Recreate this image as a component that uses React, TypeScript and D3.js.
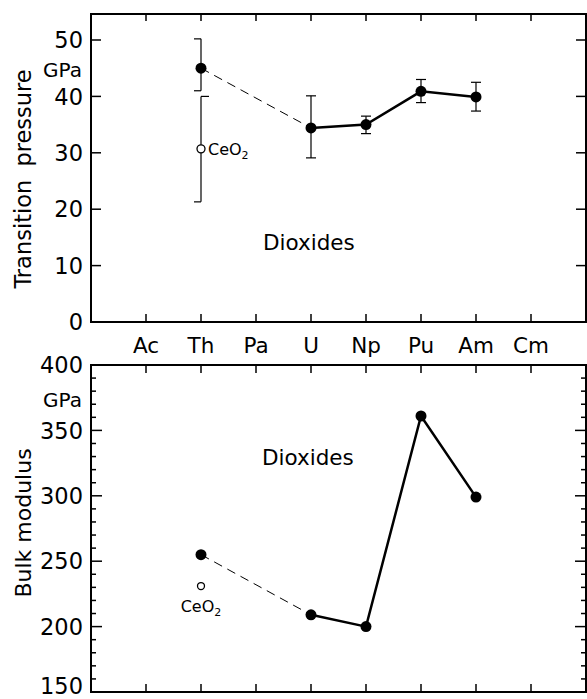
import React from 'react';
import * as d3 from 'd3';

// actinide row along the x axis
const elements = ['Ac', 'Th', 'Pa', 'U', 'Np', 'Pu', 'Am', 'Cm'];

// transition pressure of the dioxides (GPa)
const tpElems = ['Th', 'U', 'Np', 'Pu', 'Am'];
const tpValues = [45, 34.4, 35, 40.9, 39.9];
const tpLow = [41, 29.1, 33.4, 38.9, 37.4];
const tpHigh = [50.2, 40.1, 36.5, 43.0, 42.5];
const ceo2Tp = 30.7;
const ceo2TpLow = 21.3;
const ceo2TpHigh = 40;

// bulk modulus of the dioxides (GPa)
const bmElems = ['Th', 'U', 'Np', 'Pu', 'Am'];
const bmValues = [255, 209, 200, 361, 299];
const ceo2Bm = 231;

const tpTicks = [0, 10, 20, 30, 40, 50];
const bmTicks = [150, 200, 250, 300, 350, 400];

const FONT = '"DejaVu Sans", sans-serif';

const App = () => {
  const W = 587;
  const H = 699;
  const left = 91;
  const right = 586;

  const x = d3.scaleLinear().domain([-1, elements.length]).range([left, right]);
  const xe = (e: string) => x(elements.indexOf(e));

  // top panel
  const tTop = 14;
  const tBot = 322;
  const yT = d3.scaleLinear().domain([0, 50]).range([tBot, 40]);

  // bottom panel
  const bTop = 365;
  const bBot = 692;
  const yB = d3.scaleLinear().domain([150, 400]).range([bBot, bTop]);

  const line = d3.line<[number, number]>().x(d => d[0]).y(d => d[1]);

  const tpPts: [number, number][] = tpElems.map((e, i) => [xe(e), yT(tpValues[i])]);
  const bmPts: [number, number][] = bmElems.map((e, i) => [xe(e), yB(bmValues[i])]);

  const minorB = d3.range(150, 401, 10);
  const thX = xe('Th');

  return (
    <svg width={W} height={H} style={{ position: 'absolute', left: 0, top: 0, background: '#fff' }}
      fontFamily={FONT}>
      <rect x={0} y={0} width={W} height={H} fill="#fff" />

      {/* ===== top panel ===== */}
      <rect x={left} y={tTop} width={right - left} height={tBot - tTop} fill="none" stroke="#000" strokeWidth={2} />
      {tpTicks.map(t => (
        <g key={'tt' + t}>
          {t > 0 && <line x1={left} x2={left + 10} y1={yT(t)} y2={yT(t)} stroke="#000" strokeWidth={1.5} />}
          {t > 0 && <line x1={right} x2={right - 10} y1={yT(t)} y2={yT(t)} stroke="#000" strokeWidth={1.5} />}
          <text x={83} y={yT(t)} dy="0.36em" textAnchor="end" fontSize={22.5}>{t}</text>
        </g>
      ))}
      {elements.map(e => (
        <g key={'tx' + e}>
          <line x1={xe(e)} x2={xe(e)} y1={tTop} y2={tTop + 7} stroke="#000" strokeWidth={1.5} />
          <line x1={xe(e)} x2={xe(e)} y1={tBot} y2={tBot - 8} stroke="#000" strokeWidth={1.5} />
          <text x={xe(e)} y={353} textAnchor="middle" fontSize={21.5}>{e}</text>
        </g>
      ))}
      <text x={82} y={77} textAnchor="end" fontSize={20}>GPa</text>
      <text transform="translate(31,179) rotate(-90)" textAnchor="middle" fontSize={22.5} wordSpacing={6}>Transition pressure</text>
      <text x={263} y={250} fontSize={21.5}>Dioxides</text>

      {/* error bars */}
      {tpElems.map((e, i) => {
        const cx = xe(e);
        const isTh = e === 'Th';
        const c0 = isTh ? cx - 7 : cx - 5;
        const c1 = isTh ? cx : cx + 5;
        return (
          <g key={'eb' + e} stroke="#000" strokeWidth={1.2}>
            <line x1={cx} x2={cx} y1={yT(tpLow[i])} y2={yT(tpHigh[i])} />
            <line x1={c0} x2={c1} y1={yT(tpLow[i])} y2={yT(tpLow[i])} />
            <line x1={c0} x2={c1} y1={yT(tpHigh[i])} y2={yT(tpHigh[i])} />
          </g>
        );
      })}
      <g stroke="#000" strokeWidth={1.2}>
        <line x1={thX} x2={thX} y1={yT(ceo2TpLow)} y2={yT(ceo2TpHigh)} />
        <line x1={thX} x2={thX + 8} y1={yT(ceo2TpHigh)} y2={yT(ceo2TpHigh)} />
        <line x1={thX - 7} x2={thX} y1={yT(ceo2TpLow)} y2={yT(ceo2TpLow)} />
      </g>

      <path d={line(tpPts.slice(0, 2)) ?? ''} fill="none" stroke="#000" strokeWidth={1} strokeDasharray="9,6" />
      <path d={line(tpPts.slice(1)) ?? ''} fill="none" stroke="#000" strokeWidth={2.5} />
      {tpPts.map((p, i) => <circle key={'tp' + i} cx={p[0]} cy={p[1]} r={5.5} fill="#000" />)}
      <circle cx={thX} cy={yT(ceo2Tp)} r={4} fill="#fff" stroke="#000" strokeWidth={1.3} />
      <text x={208} y={yT(ceo2Tp) + 6} fontSize={16}>CeO<tspan fontSize={11} dy={4}>2</tspan></text>

      {/* ===== bottom panel ===== */}
      <rect x={left} y={bTop} width={right - left} height={bBot - bTop} fill="none" stroke="#000" strokeWidth={2} />
      {minorB.map(t => {
        const major = t % 50 === 0;
        const len = major ? 11 : 5;
        return (
          <g key={'mb' + t}>
            <line x1={left} x2={left + len} y1={yB(t)} y2={yB(t)} stroke="#000" strokeWidth={1.5} />
            <line x1={right} x2={right - len} y1={yB(t)} y2={yB(t)} stroke="#000" strokeWidth={1.5} />
          </g>
        );
      })}
      {bmTicks.map(t => (
        <text key={'bt' + t} x={83} y={Math.min(yB(t), 686)} dy="0.36em" textAnchor="end" fontSize={22.5}>{t}</text>
      ))}
      {elements.map(e => (
        <g key={'bx' + e}>
          <line x1={xe(e)} x2={xe(e)} y1={bTop} y2={bTop + 8} stroke="#000" strokeWidth={1.5} />
          <line x1={xe(e)} x2={xe(e)} y1={bBot} y2={bBot - 8} stroke="#000" strokeWidth={1.5} />
        </g>
      ))}
      <text x={82} y={407} textAnchor="end" fontSize={20}>GPa</text>
      <text transform="translate(31,523) rotate(-90)" textAnchor="middle" fontSize={22}>Bulk modulus</text>
      <text x={262} y={465} fontSize={21.5}>Dioxides</text>

      <path d={line(bmPts.slice(0, 2)) ?? ''} fill="none" stroke="#000" strokeWidth={1} strokeDasharray="9,6" />
      <path d={line(bmPts.slice(1)) ?? ''} fill="none" stroke="#000" strokeWidth={2.5} />
      {bmPts.map((p, i) => <circle key={'bm' + i} cx={p[0]} cy={p[1]} r={5.5} fill="#000" />)}
      <circle cx={thX} cy={yB(ceo2Bm)} r={3.5} fill="#fff" stroke="#000" strokeWidth={1.3} />
      <text x={thX} y={612} textAnchor="middle" fontSize={16}>CeO<tspan fontSize={11} dy={4}>2</tspan></text>
    </svg>
  );
};

export default App;
